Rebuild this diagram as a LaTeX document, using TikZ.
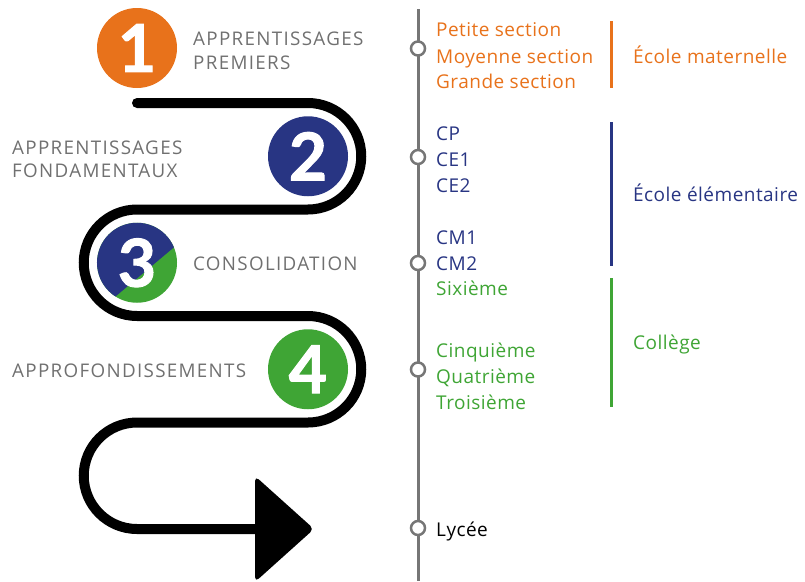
\documentclass[tikz,border=0pt]{standalone}
\usepackage{fontspec}
\setmainfont{Open Sans}
\newfontfamily\numfont[BoldFeatures={FakeBold=1.5}]{Lato}
\newfontfamily\capsfont[LetterSpace=7]{Open Sans}
\newfontfamily\lvlfont[LetterSpace=2.5]{Open Sans}
\definecolor{orng}{RGB}{232,114,27}
\definecolor{navy}{RGB}{40,53,131}
\definecolor{grn}{RGB}{63,165,53}
\definecolor{txtgray}{RGB}{112,112,112}
\definecolor{linegray}{RGB}{118,118,118}
\begin{document}
\begin{tikzpicture}[x=1pt,y=1pt,
  stage/.style={circle, minimum size=80pt, inner sep=0pt, text=white,
    font=\numfont\fontsize{66}{66}\selectfont\bfseries},
  phase/.style={anchor=base west, inner sep=0pt, text=txtgray,
    font=\capsfont\fontsize{18.8}{22}\selectfont},
  level/.style={anchor=base west, inner sep=0pt, font=\lvlfont\fontsize{19}{22}\selectfont},
  tick/.style={circle, draw=linegray, fill=white, line width=2.5pt,
    minimum size=14pt, inner sep=0pt},
  bar/.style={line width=3pt},
  snake/.style={line width=10pt, line cap=round},
]
\useasboundingbox (0,0) rectangle (805,-581);

% snake path
\coordinate (s0) at (137,-103);
\coordinate (s5) at (257,-529);
\draw[snake] (s0) -- (308,-103)
  arc[start angle=90, end angle=-90, radius=53.25] -- (137,-209.5)
  arc[start angle=90, end angle=270, radius=53.25] -- (308,-316)
  arc[start angle=90, end angle=-90, radius=53.25] -- (137,-422.5)
  arc[start angle=90, end angle=270, radius=53.25] -- (s5);
\fill[rounded corners=5pt] (255,-476) -- (314,-529) -- (255,-582) -- cycle;

% stage circles
\node[stage, fill=orng] (c1) at (137,-48) {1};
\node[stage, fill=navy] (c2) at (308,-156.25) {2};
\fill[grn] (137,-262.75) circle[radius=40];
\fill[navy] (137,-262.75) ++(22.7:40) arc[start angle=22.7, end angle=237.5, radius=40] -- cycle;
\node[stage] (c3) at (137,-262.75) {3};
\node[stage, fill=grn] (c4) at (308,-369.25) {4};

% phase labels
\node[phase] (p1a) at (193,-45.7) {APPRENTISSAGES};
\node[phase] (p1b) at (193,-69) {PREMIERS};
\node[phase] (p2a) at (12,-154) {APPRENTISSAGES};
\node[phase] (p2b) at (12,-177.3) {FONDAMENTAUX};
\node[phase] (p3) at (193,-270) {CONSOLIDATION};
\node[phase] (p4) at (12,-377.3) {APPROFONDISSEMENTS};

% timeline
\coordinate (ttop) at (418,-9);
\coordinate (tbot) at (418,-581);
\draw[line width=3pt, linegray] (ttop) -- (tbot);
\node[tick] (t1) at (418,-48.5) {};
\node[tick] (t2) at (418,-157) {};
\node[tick] (t3) at (418,-263) {};
\node[tick] (t4) at (418,-369.5) {};
\node[tick] (t5) at (418,-528) {};

% levels
\node[level, text=orng] (l1) at (436,-36.7) {Petite section};
\node[level, text=orng] (l2) at (436,-63.3) {Moyenne section};
\node[level, text=orng] (l3) at (436,-88.3) {Grande section};
\node[level, text=navy] (l4) at (436,-140) {CP};
\node[level, text=navy] (l5) at (436,-166.5) {CE1};
\node[level, text=navy] (l6) at (436,-192.5) {CE2};
\node[level, text=navy] (l7) at (436,-244) {CM1};
\node[level, text=navy] (l8) at (436,-270.5) {CM2};
\node[level, text=grn] (l9) at (436,-295.5) {Sixième};
\node[level, text=grn] (l10) at (436,-357.3) {Cinquième};
\node[level, text=grn] (l11) at (436,-383.5) {Quatrième};
\node[level, text=grn] (l12) at (436,-409) {Troisième};
\node[level, text=black] (l13) at (436,-536.7) {Lycée};

% group bars
\coordinate (b1t) at (611,-21);  \coordinate (b1b) at (611,-88);
\coordinate (b2t) at (611,-122); \coordinate (b2b) at (611,-266);
\coordinate (b3t) at (611,-278); \coordinate (b3b) at (611,-407);
\draw[bar, orng] (b1t) -- (b1b);
\draw[bar, navy] (b2t) -- (b2b);
\draw[bar, grn] (b3t) -- (b3b);

% group labels
\node[level, text=orng] (g1) at (633,-63.3) {École maternelle};
\node[level, text=navy] (g2) at (633,-201.7) {École élémentaire};
\node[level, text=grn] (g3) at (633,-349) {Collège};
\end{tikzpicture}
\end{document}
